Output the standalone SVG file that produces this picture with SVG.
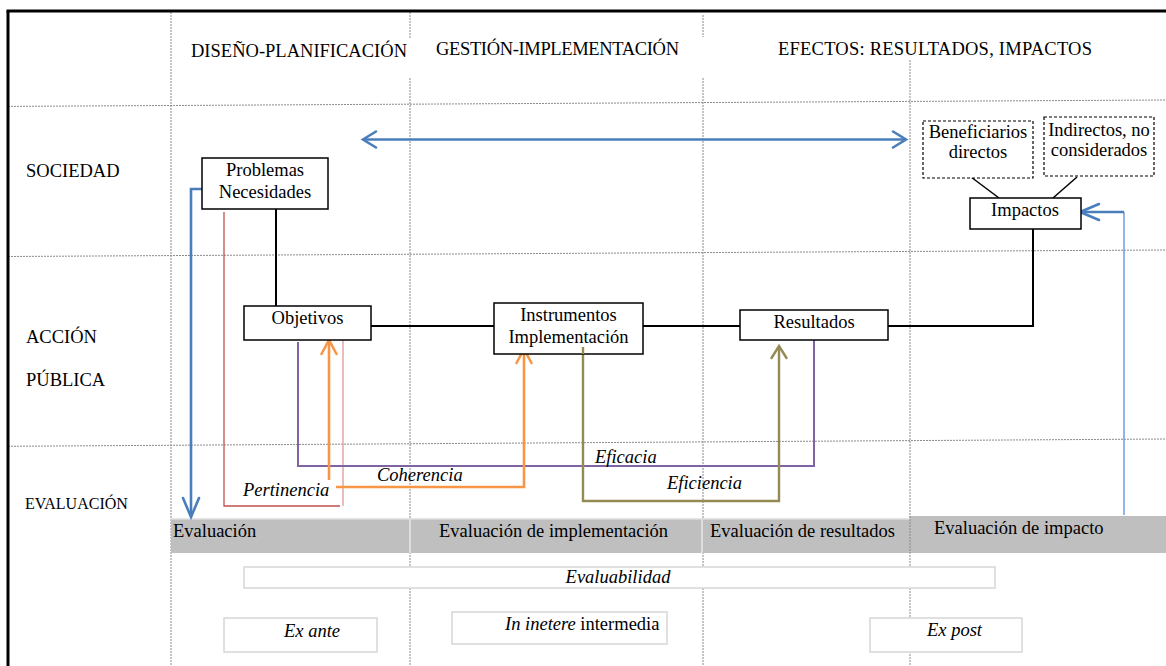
<svg xmlns="http://www.w3.org/2000/svg" width="1166" height="666" viewBox="0 0 1166 666">
  <style>
    text { font-family: "Liberation Serif", "Times New Roman", serif; font-size: 18.5px; fill: #000; }
    .it { font-style: italic; }
    .mid { text-anchor: middle; }
    .grid { stroke: #8a8a8a; stroke-width: 1; stroke-dasharray: 2 1; fill: none; }
    .box { fill: #fff; stroke: #000; stroke-width: 1.5; }
    .dbox { fill: #fff; stroke: #000; stroke-width: 1.2; stroke-dasharray: 3 2; }
    .lbox { fill: #fff; stroke: #d6d6d6; stroke-width: 1.5; }
    .link { fill: none; stroke: #000; stroke-width: 2; }
    .blue { fill: none; stroke: #4a7ebb; stroke-width: 2.6; }
    .blue-thin { fill: none; stroke: #6a9fd8; stroke-width: 1.5; }
    .orange { fill: none; stroke: #f79646; stroke-width: 2.6; }
    .purple { fill: none; stroke: #8064a2; stroke-width: 2; }
    .olive { fill: none; stroke: #948a54; stroke-width: 2.4; }
    .red { fill: none; stroke: #c0504d; stroke-width: 1.3; }
    .pink { fill: none; stroke: #dc9a9a; stroke-width: 1.3; }
  </style>
  <defs>
    <marker id="chevBlue" markerUnits="userSpaceOnUse" viewBox="-16 -10 18 20" refX="0" refY="0" markerWidth="18" markerHeight="20" orient="auto-start-reverse" overflow="visible">
      <path d="M-13,-8 L0,0 L-13,8" fill="none" stroke="#4a7ebb" stroke-width="2.6" stroke-linecap="round" stroke-linejoin="miter"/>
    </marker>
    <marker id="chevBlueLong" markerUnits="userSpaceOnUse" viewBox="-22 -10 24 20" refX="0" refY="0" markerWidth="24" markerHeight="20" orient="auto" overflow="visible">
      <path d="M-19,-8 L0,0 L-19,8" fill="none" stroke="#4a7ebb" stroke-width="2.6" stroke-linecap="round"/>
    </marker>
    <marker id="chevOrange" markerUnits="userSpaceOnUse" viewBox="-16 -10 18 20" refX="0" refY="0" markerWidth="18" markerHeight="20" orient="auto" overflow="visible">
      <path d="M-14,-7.5 L0,0 L-14,7.5" fill="none" stroke="#f79646" stroke-width="2.6" stroke-linecap="round"/>
    </marker>
    <marker id="chevOlive" markerUnits="userSpaceOnUse" viewBox="-16 -10 18 20" refX="0" refY="0" markerWidth="18" markerHeight="20" orient="auto" overflow="visible">
      <path d="M-12,-7.5 L0,0 L-12,7.5" fill="none" stroke="#948a54" stroke-width="2.4" stroke-linecap="round"/>
    </marker>
  </defs>

  <rect width="1166" height="666" fill="#fff"/>

  <!-- table grid -->
  <g id="grid">
    <line class="grid" x1="8" y1="106.4" x2="1166" y2="100"/>
    <line class="grid" x1="8" y1="256.5" x2="1166" y2="250"/>
    <line class="grid" x1="8" y1="446.3" x2="1166" y2="439"/>
    <line class="grid" x1="171" y1="12" x2="171" y2="666"/>
    <line class="grid" x1="410" y1="12" x2="410" y2="39"/>
    <line class="grid" x1="410" y1="78" x2="410" y2="666"/>
    <line class="grid" x1="703" y1="15" x2="703" y2="37"/>
    <line class="grid" x1="703" y1="78" x2="703" y2="666"/>
    <line class="grid" x1="910" y1="60" x2="910" y2="666"/>
  </g>

  <!-- outer frame -->
  <g id="frame" stroke="#000" stroke-width="3" fill="none">
    <line x1="6.5" y1="11" x2="1166" y2="11"/>
    <line x1="8" y1="11" x2="8" y2="666"/>
  </g>

  <!-- column and row headings -->
  <g id="headings">
    <text x="191" y="57" textLength="216" lengthAdjust="spacing">DISEÑO-PLANIFICACIÓN</text>
    <text x="436" y="55" textLength="243" lengthAdjust="spacing">GESTIÓN-IMPLEMENTACIÓN</text>
    <text x="778" y="55" textLength="314" lengthAdjust="spacing">EFECTOS: RESULTADOS, IMPACTOS</text>
    <text x="26" y="177">SOCIEDAD</text>
    <text x="26" y="343">ACCIÓN</text>
    <text x="26" y="386">PÚBLICA</text>
    <text x="25" y="509" style="font-size:16px">EVALUACIÓN</text>
  </g>

  <!-- evaluation band -->
  <g id="evaluation-band">
    <rect x="171" y="519" width="739" height="34" fill="#bfbfbf"/>
    <rect x="910" y="516" width="256" height="37" fill="#bfbfbf"/>
    <line x1="410" y1="519" x2="410" y2="553" stroke="#dedede" stroke-width="2"/>
    <line x1="702" y1="519" x2="702" y2="553" stroke="#dedede" stroke-width="2"/>
    <line x1="171" y1="519" x2="910" y2="519" stroke="#dcdcdc" stroke-width="1.5"/>
    <line class="grid" x1="910" y1="516" x2="910" y2="553"/>
    <text x="173" y="537">Evaluación</text>
    <text x="439" y="537">Evaluación de implementación</text>
    <text x="710" y="537">Evaluación de resultados</text>
    <text x="934" y="534">Evaluación de impacto</text>
  </g>

  <!-- connectors -->
  <g id="connectors">
    <path class="blue" d="M363,139.5 H906" marker-start="url(#chevBlue)" marker-end="url(#chevBlue)"/>
    <path class="blue" d="M202,189 H191 V517" marker-end="url(#chevBlueLong)"/>
    <path class="blue-thin" d="M1124,515 V212"/>
    <path class="blue" d="M1124,212 H1080" marker-end="url(#chevBlueLong)"/>
    <path class="link" d="M276,209 V306"/>
    <path class="link" d="M371,326 H494"/>
    <path class="link" d="M643,326 H740"/>
    <path class="link" d="M888,326 H1033 V229"/>
    <path class="link" style="stroke-width:1.5" d="M971,177 L999,198"/>
    <path class="link" style="stroke-width:1.5" d="M1077,177 L1053,198"/>
    <path class="red" d="M224,212 V506 H340"/>
    <path class="pink" d="M343,337 V506"/>
    <path class="purple" d="M298,342 V466 H814 V340"/>
    <path class="orange" d="M329,480 V340" marker-end="url(#chevOrange)"/>
    <path class="orange" d="M336,487 H524 V349" marker-end="url(#chevOrange)"/>
    <path class="olive" d="M583,347 V501 H779 V346" marker-end="url(#chevOlive)"/>
  </g>

  <!-- connector labels -->
  <g id="labels">
    <text class="it" x="243" y="496">Pertinencia</text>
    <text class="it" x="377" y="481">Coherencia</text>
    <text class="it" x="595" y="463">Eficacia</text>
    <text class="it" x="667" y="489">Eficiencia</text>
  </g>

  <g id="problemas">
    <rect class="box" x="202" y="158" width="126" height="51"/>
    <text class="mid" x="265" y="176">Problemas</text>
    <text class="mid" x="265" y="198">Necesidades</text>
  </g>
  <g id="objetivos">
    <rect class="box" x="244" y="306" width="127" height="34"/>
    <text class="mid" x="307.5" y="324">Objetivos</text>
  </g>
  <g id="instrumentos">
    <rect class="box" x="494" y="303" width="149" height="51"/>
    <text class="mid" x="568.5" y="321">Instrumentos</text>
    <text class="mid" x="568.5" y="343">Implementación</text>
  </g>
  <!-- eficiencia stem starts inside the instrument box -->
  <path class="olive" d="M583,347 V354"/>
  <g id="resultados">
    <rect class="box" x="740" y="310" width="148" height="30"/>
    <text class="mid" x="814" y="328">Resultados</text>
  </g>
  <g id="impactos">
    <rect class="box" x="970" y="198" width="111" height="31"/>
    <text class="mid" x="1025" y="216">Impactos</text>
  </g>
  <g id="beneficiarios">
    <rect class="dbox" x="923" y="121" width="110" height="57"/>
    <text class="mid" x="978" y="138">Beneficiarios</text>
    <text class="mid" x="978" y="158">directos</text>
  </g>
  <g id="indirectos">
    <rect class="dbox" x="1044" y="117" width="110" height="59"/>
    <text class="mid" x="1099" y="136">Indirectos, no</text>
    <text class="mid" x="1099" y="156">considerados</text>
  </g>

  <g id="evaluabilidad">
    <rect class="lbox" x="244" y="567" width="751" height="21"/>
    <text class="it mid" x="618" y="583">Evaluabilidad</text>
  </g>
  <g id="ex-ante">
    <rect class="lbox" x="224" y="618" width="153" height="34"/>
    <text class="it" x="284" y="637">Ex ante</text>
  </g>
  <g id="intermedia">
    <rect class="lbox" x="452" y="612" width="215" height="32"/>
    <text x="505" y="630"><tspan class="it">In inetere</tspan> intermedia</text>
  </g>
  <g id="ex-post">
    <rect class="lbox" x="870" y="618" width="152" height="34"/>
    <text class="it" x="927" y="636">Ex post</text>
  </g>
</svg>
